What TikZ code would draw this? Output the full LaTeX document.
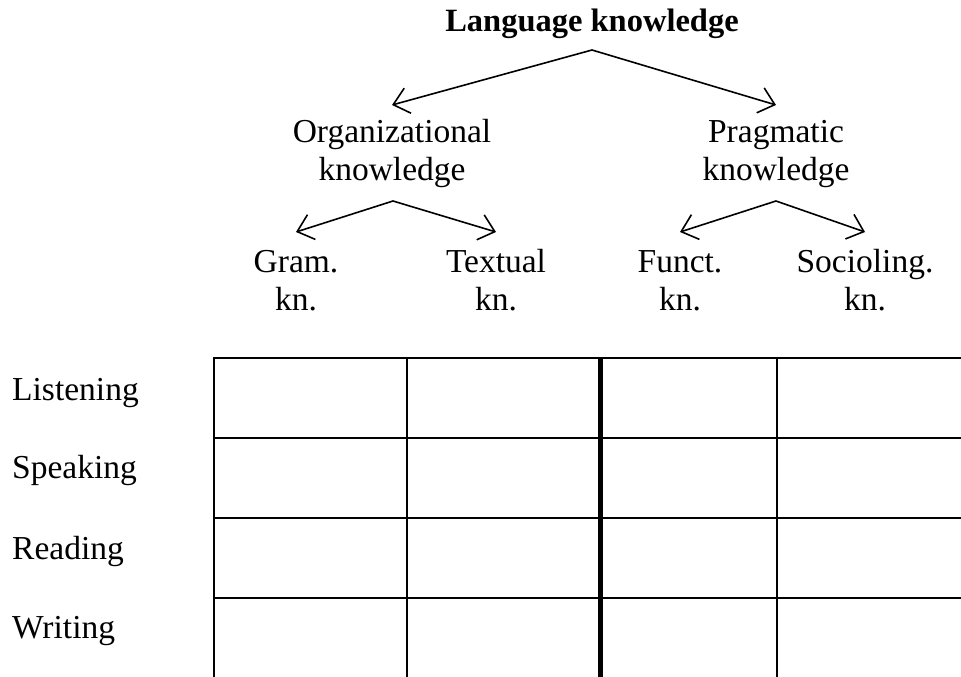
\documentclass[tikz,border=0pt]{standalone}
\usepackage{fontspec}
\setmainfont{Liberation Serif}
\usetikzlibrary{arrows.meta}
\begin{document}
\begin{tikzpicture}[x=1pt,y=-1pt,
  lbl/.style={inner sep=0pt,align=center,font=\fontsize{33.5}{38}\selectfont},
  ttl/.style={inner sep=0pt,font=\fontsize{32.5}{38}\selectfont\bfseries},
  arr/.style={line width=1.6pt,-{Straight Barb[length=15pt,width=26pt,line width=1.6pt]}},
  grid/.style={line width=2pt},
  thickgrid/.style={line width=5pt}]
\useasboundingbox (0,0) rectangle (961,677);
% titles (anchor base = baseline of last line)
\node[ttl,anchor=base] (top) at (592,32) {Language knowledge};
\node[lbl,anchor=base] (org) at (392,180) {Organizational\\knowledge};
\node[lbl,anchor=base] (prag) at (776,180) {Pragmatic\\knowledge};
\node[lbl,anchor=base] (gram) at (296,310) {Gram.\\kn.};
\node[lbl,anchor=base] (text) at (496,310) {Textual\\kn.};
\node[lbl,anchor=base] (funct) at (680,310) {Funct.\\kn.};
\node[lbl,anchor=base] (socio) at (865,310) {Socioling.\\kn.};
% connectors
\coordinate (a0) at (592,50);
\coordinate (a1) at (393,201);
\coordinate (a2) at (776,201);
\draw[arr] (a0) -- (org.north |- 0,105);
\draw[arr] (a0) -- (prag.north |- 0,105);
\draw[arr] (a1) -- (gram.north |- 0,232);
\draw[arr] (a1) -- (text.north |- 0,232);
\draw[arr] (a2) -- (funct.north |- 0,232);
\draw[arr] (a2) -- (socio.north |- 0,232);
% row labels
\node[lbl,anchor=base west] (listen) at (12,400) {Listening};
\node[lbl,anchor=base west] (speak) at (12,478) {Speaking};
\node[lbl,anchor=base west] (read) at (12,559) {Reading};
\node[lbl,anchor=base west] (write) at (12,638) {Writing};
% table
\foreach \y in {358,438,518,598} \draw[grid] (213,\y) -- (961,\y);
\foreach \x in {214,407,777} \draw[grid] (\x,357) -- (\x,677);
\draw[thickgrid] (600,357) -- (600,677);
\end{tikzpicture}
\end{document}
